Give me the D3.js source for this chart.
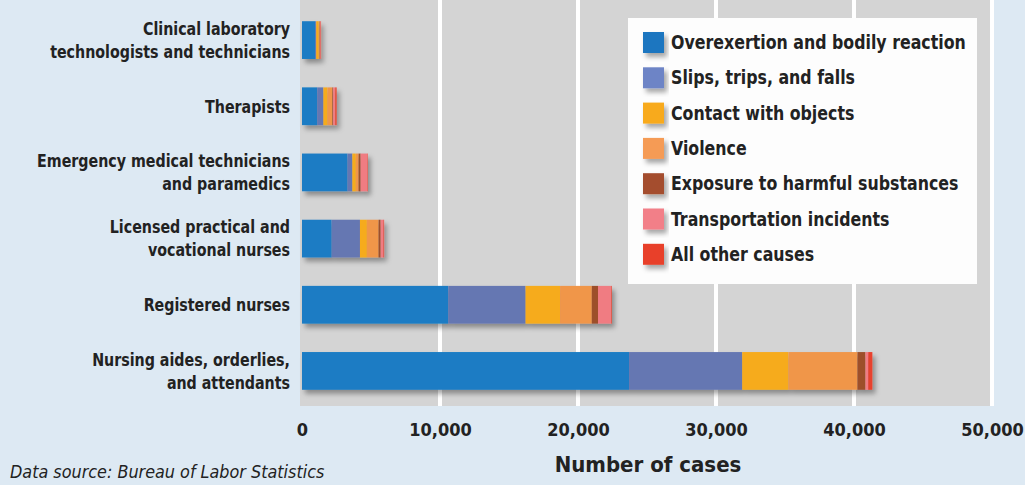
<!DOCTYPE html>
<html><head><meta charset="utf-8">
<script src="https://cdn.jsdelivr.net/npm/d3@7/dist/d3.min.js"></script>
<style>
html,body{margin:0;padding:0;background:#dde9f3;}
svg{display:block;}
text{font-family:"Liberation Sans Narrow","DejaVu Sans Condensed","Open Sans",sans-serif;}
</style></head>
<body><svg id="c" width="1025" height="485"></svg>
<script>
const categories = [
  ["Clinical laboratory","technologists and technicians"],
  ["Therapists"],
  ["Emergency medical technicians","and paramedics"],
  ["Licensed practical and","vocational nurses"],
  ["Registered nurses"],
  ["Nursing aides, orderlies,","and attendants"]
];
const causes = ["Overexertion and bodily reaction","Slips, trips, and falls","Contact with objects","Violence","Exposure to harmful substances","Transportation incidents","All other causes"];
const overexertion = [950, 1100, 3300, 2150, 10600, 23700];
const slips        = [80, 450, 350, 2050, 5600, 8200];
const contact      = [180, 300, 250, 500, 2500, 3350];
const violence     = [70, 350, 200, 850, 2300, 5000];
const exposure     = [30, 60, 150, 150, 450, 580];
const transport    = [40, 150, 500, 200, 950, 200];
const other        = [30, 100, 30, 50, 50, 300];
const xTicks = [0, 10000, 20000, 30000, 40000, 50000];
const colors = ["#1a7bc4","#6577b2","#f6ab1b","#f0964a","#9d4f2b","#f07b82","#e8432f"];
const legendColors = ["#1b76c0","#6d84c6","#f8aa1c","#f59b55","#a44e2e","#f27f88","#e8412c"];

const series = [overexertion, slips, contact, violence, exposure, transport, other];
const rows = categories.map((c,i)=>{const o={i}; causes.forEach((k,j)=>o[k]=series[j][i]); return o;});

const svg = d3.select("#c");
const defs = svg.append("defs");
const f = defs.append("filter").attr("id","sh").attr("x","-10%").attr("y","-20%").attr("width","130%").attr("height","160%");
f.append("feDropShadow").attr("dx",3).attr("dy",4).attr("stdDeviation",2.5).attr("flood-color","#000").attr("flood-opacity",0.35);

const x = d3.scaleLinear().domain([0,50000]).range([302,992]);
const y = d3.scaleBand().domain(d3.range(categories.length)).range([7,404]).paddingInner(0.43).paddingOuter(0.215);

// plot background
svg.append("rect").attr("x",x(0)-2).attr("y",0).attr("width",x(50000)-x(0)+2).attr("height",406).attr("fill","#d4d4d4");
// grid
svg.append("g").selectAll("line").data(xTicks.slice(1)).join("line")
  .attr("x1",d=>x(d)).attr("x2",d=>x(d)).attr("y1",0).attr("y2",406)
  .attr("stroke","#ffffff").attr("stroke-width",4);

const stack = d3.stack().keys(causes)(rows);
const g = svg.append("g");
g.append("g").attr("filter","url(#sh)").selectAll("g").data(stack).join("g")
  .attr("fill",(d,i)=>colors[i])
  .selectAll("rect").data(d=>d).join("rect")
  .attr("x",d=>x(d[0])).attr("width",d=>x(d[1])-x(d[0]))
  .attr("y",(d,i)=>y(i)).attr("height",y.bandwidth());

// x axis
const xa = svg.append("g").attr("transform","translate(0,406)")
  .call(d3.axisBottom(x).tickValues(xTicks).tickSize(0).tickPadding(17).tickFormat(d3.format(",")));
xa.select(".domain").remove();
xa.selectAll("text").attr("font-size",18).attr("font-weight","bold").attr("fill","#222")
  .attr("font-family","'Liberation Sans Narrow','DejaVu Sans Condensed',sans-serif");

// y labels
const yl = svg.append("g").attr("transform","translate(290,0) scale(0.88,1)");
categories.forEach((lines,i)=>{
  const cy = y(i)+y.bandwidth()/2;
  const t = yl.append("text").attr("text-anchor","end").attr("font-size",18).attr("font-weight","bold").attr("fill","#222");
  lines.forEach((l,k)=>{
    t.append("tspan").attr("x",0).attr("y",cy + (k-(lines.length-1)/2)*23).attr("dy","0.35em").text(l);
  });
});

// axis title
svg.append("text").attr("x",648).attr("y",472).attr("text-anchor","middle").attr("font-size",22).attr("font-weight","bold").attr("fill","#222").text("Number of cases");
svg.append("text").attr("x",10).attr("y",478).attr("font-size",18).attr("font-style","italic").attr("fill","#222")
  .attr("transform","translate(10,0) scale(0.99,1) translate(-10,0)").text("Data source: Bureau of Labor Statistics");

// legend
const lg = svg.append("g");
lg.append("rect").attr("x",628).attr("y",18).attr("width",349).attr("height",266).attr("fill","#fdfdfd");
const li = lg.selectAll("g").data(causes).join("g").attr("transform",(d,i)=>`translate(643,${32+i*35.3})`);
li.append("rect").attr("width",21).attr("height",21).attr("fill",(d,i)=>legendColors[i]).attr("filter","url(#sh)");
li.append("text").attr("transform","translate(28,0) scale(0.925,1)").attr("y",10.5).attr("dy","0.35em").attr("font-size",19).attr("font-weight","bold").attr("fill","#222").text(d=>d);
</script></body></html>
